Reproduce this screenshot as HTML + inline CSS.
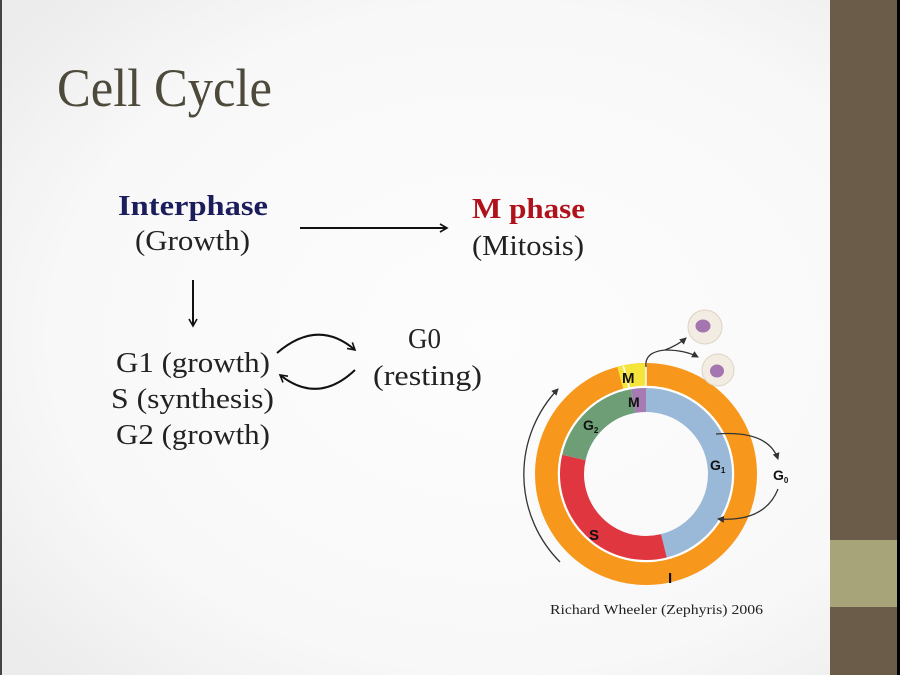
<!DOCTYPE html>
<html><head><meta charset="utf-8"><style>
html,body{margin:0;padding:0;width:900px;height:675px;overflow:hidden;background:#f7f7f7}
svg{display:block}
</style></head><body>
<svg width="900" height="675" viewBox="0 0 900 675" xmlns="http://www.w3.org/2000/svg">
<defs>
<radialGradient id="bg" cx="0.55" cy="0.5" r="0.7">
<stop offset="0" stop-color="#fdfdfd"/><stop offset="0.7" stop-color="#f8f8f8"/><stop offset="1" stop-color="#ececec"/>
</radialGradient>
<marker id="ah" markerWidth="10" markerHeight="10" refX="8" refY="5" orient="auto" markerUnits="userSpaceOnUse">
<path d="M1,1 L8,5 L1,9" fill="none" stroke="#111" stroke-width="1.6"/></marker>
<marker id="ah2" markerWidth="8" markerHeight="8" refX="6" refY="4" orient="auto" markerUnits="userSpaceOnUse">
<path d="M0,0.5 L7,4 L0,7.5 Z" fill="#333"/></marker>
</defs>
<rect width="900" height="675" fill="url(#bg)"/>
<rect x="0" y="0" width="2" height="675" fill="#444"/>
<rect x="830" y="0" width="67" height="675" fill="#6a5c48"/>
<rect x="830" y="540" width="67" height="67" fill="#a8a47a"/>
<rect x="897" y="0" width="3" height="675" fill="#000"/>

<g font-family="Liberation Serif, serif">
<text x="57" y="106" font-size="54" fill="#4d493b" textLength="215" lengthAdjust="spacingAndGlyphs">Cell Cycle</text>
<text x="118" y="215" font-size="29" font-weight="bold" fill="#1b1d5c" textLength="150" lengthAdjust="spacingAndGlyphs">Interphase</text>
<text x="135" y="250" font-size="28" fill="#222" textLength="115" lengthAdjust="spacingAndGlyphs">(Growth)</text>
<text x="472" y="218" font-size="29" font-weight="bold" fill="#b0121b" textLength="113" lengthAdjust="spacingAndGlyphs">M phase</text>
<text x="472" y="255" font-size="28" fill="#222" textLength="112" lengthAdjust="spacingAndGlyphs">(Mitosis)</text>
<text x="116" y="372" font-size="28" fill="#222" textLength="154" lengthAdjust="spacingAndGlyphs">G1 (growth)</text>
<text x="111" y="408" font-size="28" fill="#222" textLength="163" lengthAdjust="spacingAndGlyphs">S (synthesis)</text>
<text x="116" y="444" font-size="28" fill="#222" textLength="154" lengthAdjust="spacingAndGlyphs">G2 (growth)</text>
<text x="408" y="348" font-size="28" fill="#222" textLength="33" lengthAdjust="spacingAndGlyphs">G0</text>
<text x="373" y="385" font-size="28" fill="#222" textLength="109" lengthAdjust="spacingAndGlyphs">(resting)</text>
<text x="550" y="614" font-size="14" fill="#222" textLength="213" lengthAdjust="spacingAndGlyphs">Richard Wheeler (Zephyris) 2006</text>
</g>

<g stroke="#111" stroke-width="2" fill="none">
<line x1="300" y1="228" x2="447" y2="228" marker-end="url(#ah)"/>
<line x1="193" y1="280" x2="193" y2="326" marker-end="url(#ah)"/>
<path d="M277,353 Q318,318 355,350" marker-end="url(#ah)"/>
<path d="M355,370 Q318,405 280,375" marker-end="url(#ah)"/>
</g>

<circle cx="646" cy="474" r="99.5" fill="none" stroke="#f7981d" stroke-width="23"/>
<path d="M620.2,377.9 A99.5,99.5 0 0 1 646,374.5" fill="none" stroke="#f5e43a" stroke-width="23"/>
<line x1="646" y1="362" x2="646" y2="387" stroke="#fff" stroke-width="1.5"/>
<line x1="623.3" y1="366" x2="629.8" y2="390" stroke="#fff" stroke-width="1.5"/>
<circle cx="646" cy="474" r="87" fill="none" stroke="#fff" stroke-width="2.5"/>
<path d="M646,400 A74,74 0 0 1 663.9,545.8" fill="none" stroke="#9ab9d8" stroke-width="24"/>
<path d="M663.9,545.8 A74,74 0 0 1 573.9,457.4" fill="none" stroke="#e0363f" stroke-width="24"/>
<path d="M573.9,457.4 A74,74 0 0 1 633.1,401.1" fill="none" stroke="#6e9e76" stroke-width="24"/>
<path d="M633.1,401.1 A74,74 0 0 1 646,400" fill="none" stroke="#a57bb1" stroke-width="24"/>

<g font-family="Liberation Sans, sans-serif" font-weight="bold" fill="#111" font-size="15">
<text x="622" y="383">M</text>
<text x="628" y="407" font-size="14">M</text>
<text x="583" y="430" font-size="14">G<tspan font-size="8" dy="3">2</tspan></text>
<text x="710" y="470" font-size="14">G<tspan font-size="8" dy="3">1</tspan></text>
<text x="589" y="540" font-size="15">S</text>
<text x="668" y="583" font-size="15">I</text>
<text x="773" y="480" font-size="14">G<tspan font-size="8" dy="3">0</tspan></text>
</g>

<g stroke="#333" stroke-width="1.3" fill="none">
<path d="M560,562 A124,124 0 0 1 558,389" marker-end="url(#ah2)"/>
<path d="M716,434 Q768,430 778,459" marker-end="url(#ah2)"/>
<path d="M778,489 Q765,522 718,519" marker-end="url(#ah2)"/>
<path d="M646,367 Q644,352 665,350 Q678,345 686,338" marker-end="url(#ah2)"/>
<path d="M665,350 Q685,350 698,357" marker-end="url(#ah2)"/>
</g>
<circle cx="705" cy="327" r="17" fill="#f2ece2" stroke="#ddd3c3"/>
<ellipse cx="703" cy="326" rx="7.5" ry="6.5" fill="#a575b0"/>
<circle cx="718" cy="370" r="16" fill="#f2ece2" stroke="#ddd3c3"/>
<ellipse cx="717" cy="371" rx="7" ry="6.5" fill="#a575b0"/>
</svg>
</body></html>
